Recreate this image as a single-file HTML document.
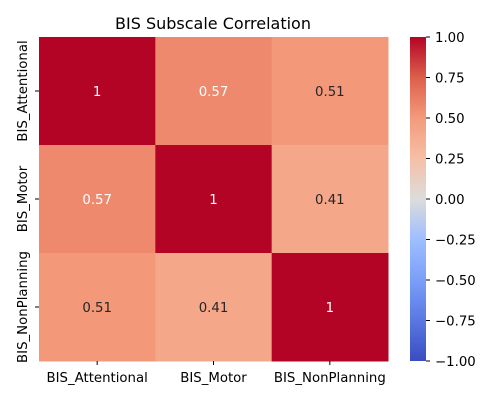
<!DOCTYPE html>
<html><head><meta charset="utf-8"><style>
body{margin:0;background:#fff;}
svg{font-family:"DejaVu Sans","Liberation Sans",sans-serif;}
</style></head><body>
<svg id="chart" width="500" height="400" viewBox="0 0 500 400">
<defs><linearGradient id="cw" x1="0" y1="1" x2="0" y2="0">
<stop offset="0" stop-color="#3b4cc0"/><stop offset="0.125" stop-color="#5977e3"/><stop offset="0.25" stop-color="#7b9ff9"/><stop offset="0.375" stop-color="#9ebeff"/><stop offset="0.5" stop-color="#dddcdc"/><stop offset="0.625" stop-color="#f6bfa6"/><stop offset="0.75" stop-color="#f49a7b"/><stop offset="0.875" stop-color="#dd5f4b"/><stop offset="1" stop-color="#b40426"/>
</linearGradient></defs>
<text x="213" y="29" font-size="16" text-anchor="middle" fill="#000">BIS Subscale Correlation</text>
<g id="cells"></g>
<rect x="410" y="37" width="16" height="324" fill="url(#cw)"/>
<g id="cbticks"></g>
</svg>
<script>
const labels=["BIS_Attentional","BIS_Motor","BIS_NonPlanning"];
const row0=[1,0.57,0.51];
const row1=[0.57,1,0.41];
const row2=[0.51,0.41,1];
const matrix=[row0,row1,row2];
const cbTicks=[1,0.75,0.5,0.25,0,-0.25,-0.5,-0.75,-1];
const stops=[[-1,[59,76,192]],[-0.75,[89,119,227]],[-0.5,[123,159,249]],[-0.25,[158,190,255]],[0,[221,220,220]],[0.25,[246,191,166]],[0.5,[244,154,123]],[0.75,[221,95,75]],[1,[180,4,38]]];
function color(v){for(let i=0;i<stops.length-1;i++){const a=stops[i],b=stops[i+1];if(v<=b[0]){const t=(v-a[0])/(b[0]-a[0]);return 'rgb('+a[1].map((c,k)=>Math.round(c+(b[1][k]-c)*t)).join(',')+')';}}return 'rgb(180,4,38)';}
const X0=39,X1=388,Y0=37,Y1=361;
const cw=(X1-X0)/labels.length,ch=(Y1-Y0)/labels.length;
const xs=i=>X0+i*cw, ys=j=>Y0+j*ch;
const ns='http://www.w3.org/2000/svg';
const g=document.getElementById('cells');
function mk(t,a,p){const e=document.createElementNS(ns,t);for(const k in a)e.setAttribute(k,a[k]);(p||g).appendChild(e);return e;}
matrix.forEach((row,j)=>row.forEach((v,i)=>{
 const r=mk('rect',{x:xs(i),y:ys(j),width:cw+0.5,height:ch+0.5,fill:color(v)});
 
 
 const t=mk('text',{x:xs(i)+cw/2,y:ys(j)+ch/2+5,'font-size':13.3,'text-anchor':'middle',fill:v>0.55?'#fff':'#262626'});
 t.textContent=String(v);
 
 
}));
labels.forEach((l,i)=>{
 const cx=xs(i)+cw/2;
 mk('line',{x1:cx,y1:Y1,x2:cx,y2:Y1+4,stroke:'#000'});
 const t=mk('text',{x:cx,y:Y1+21,'font-size':13.3,'text-anchor':'middle',fill:'#000'});
 t.textContent=l;
 
 
 const cy=ys(i)+ch/2;
 mk('line',{x1:X0-4,y1:cy,x2:X0,y2:cy,stroke:'#000'});
 const ty=mk('text',{x:0,y:0,'font-size':13.3,'text-anchor':'middle',fill:'#000',transform:'translate('+(X0-12)+','+cy+') rotate(-90)'});
 ty.textContent=l;
 
 
});
const cb=document.getElementById('cbticks');
const cbY=v=>361-(v+1)/2*324;
cbTicks.forEach(v=>{
 const y=cbY(v);
 mk('line',{x1:426,y1:y,x2:430,y2:y,stroke:'#000'},cb);
 const t=mk('text',{x:435,y:y+5,'font-size':13.3,fill:'#000'},cb);
 t.textContent=(v<0?'\u2212':'')+Math.abs(v).toFixed(2);
 
 
});
</script>
</body></html>
